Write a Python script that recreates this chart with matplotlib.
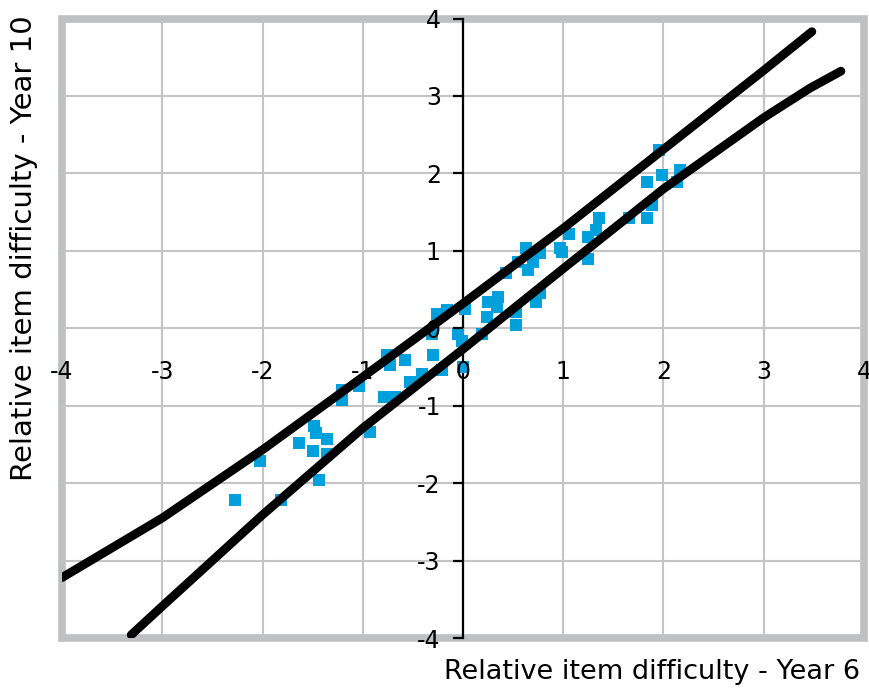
import numpy as np
import matplotlib.pyplot as plt
from matplotlib.patches import Rectangle

plt.rcParams['font.family'] = ['DejaVu Sans']
plt.rcParams['axes.unicode_minus'] = False

# item difficulties (Year 6 vs Year 10)
year6 = [-2.27, -1.82, -2.02, -1.64, -1.50, -1.36, -1.36, -1.49, -1.47, -1.44,
         -0.93, -1.21, -1.21, -1.04, -0.79, -0.68, -0.76, -0.73, -0.58, -0.53,
         -0.41, -0.30, -0.21, 0.00, -0.31, -0.26, -0.16, 0.02, -0.05, -0.01,
         0.19, 0.24, 0.25, 0.35, 0.34, 0.53, 0.53, 0.73, 0.77, 0.43,
         0.55, 0.63, 0.65, 0.70, 0.77, 0.97, 0.99, 1.06, 1.25, 1.25,
         1.33, 1.36, 1.66, 1.84, 1.89, 1.84, 1.99, 1.96, 2.16, 2.13]
year10 = [-2.22, -2.22, -1.71, -1.48, -1.58, -1.43, -1.62, -1.26, -1.35, -1.96,
          -1.34, -0.80, -0.93, -0.74, -0.89, -0.89, -0.35, -0.48, -0.41, -0.69,
          -0.59, -0.35, -0.54, -0.50, -0.07, 0.19, 0.23, 0.25, -0.07, -0.16,
          -0.07, 0.15, 0.34, 0.40, 0.27, 0.21, 0.04, 0.34, 0.45, 0.71,
          0.86, 1.03, 0.75, 0.86, 0.97, 1.03, 0.99, 1.22, 1.18, 0.90,
          1.27, 1.42, 1.42, 1.42, 1.59, 1.89, 1.98, 2.30, 2.04, 1.89]

# confidence band curves
upper_x = [-4.00, -3.00, -2.00, -1.00, 0.00, 1.00, 2.00, 3.00, 3.48]
upper_y = [-3.22, -2.45, -1.57, -0.63, 0.32, 1.29, 2.31, 3.33, 3.83]
lower_x = [-3.31, -3.00, -2.00, -1.00, 0.00, 1.00, 2.00, 3.00, 3.46, 3.77]
lower_y = [-3.96, -3.59, -2.41, -1.29, -0.27, 0.77, 1.80, 2.72, 3.10, 3.32]

ticks = [-4, -3, -2, -1, 0, 1, 2, 3, 4]

fig = plt.figure(figsize=(8.7, 6.91), dpi=100)
ax = fig.add_axes([62 / 870, 53 / 691, 802 / 870, 619.5 / 691])

ax.set_xlim(-4, 4)
ax.set_ylim(-4, 4)
ax.set_xticks(ticks)
ax.set_yticks(ticks)
ax.set_xticklabels([str(t) for t in ticks])
ax.set_yticklabels([str(t) for t in ticks])

# grid drawn by hand so the tick labels can sit above the points
for t in ticks[1:-1]:
    ax.axhline(t, color='#c4c4c4', lw=1.5, zorder=0.5)
    ax.axvline(t, color='#c4c4c4', lw=1.5, zorder=0.5)

# y axis through zero, x axis without a line
ax.spines['left'].set_position(('data', 0))
ax.spines['left'].set_linewidth(1.6)
ax.spines['left'].set_zorder(2)
ax.spines['bottom'].set_position(('data', 0))
ax.spines['bottom'].set_visible(False)
ax.spines['top'].set_visible(False)
ax.spines['right'].set_visible(False)
ax.tick_params(axis='y', length=7, width=1.6, pad=9, labelsize=17)
ax.tick_params(axis='x', length=0, pad=23, labelsize=17)
ax.xaxis.set_zorder(3.5)
ax.yaxis.set_zorder(3.5)

# grey frame
ax.add_patch(Rectangle((0, 0), 1, 1, transform=ax.transAxes, fill=False,
                       ec='#bfc0c2', lw=5.5, clip_on=False, zorder=0.4))

ax.scatter(year6, year10, marker='s', s=75, color='#00a0dc', lw=0, zorder=3)
ax.plot(upper_x, upper_y, color='black', lw=6.3, solid_capstyle='round', zorder=4)
ax.plot(lower_x, lower_y, color='black', lw=6.3, solid_capstyle='round', zorder=4)

fig.text(860 / 870, 1 - 672 / 691, 'Relative item difficulty - Year 6',
         ha='right', va='center', fontsize=19.5)
fig.text(24 / 870, 1 - 248 / 691, 'Relative item difficulty - Year 10',
         ha='center', va='center', rotation=90, fontsize=21)

plt.savefig('out.png')
